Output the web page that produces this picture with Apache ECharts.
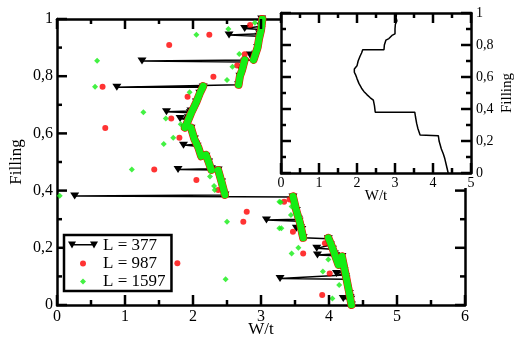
<!DOCTYPE html>
<html>
<head>
<meta charset="utf-8">
<script src="https://cdn.jsdelivr.net/npm/echarts@6/dist/echarts.min.js"></script>
<style>
html, body { margin: 0; padding: 0; background: #fff; }
#chart { width: 516px; height: 338px; }
</style>
</head>
<body>
<div id="chart"></div>
<script>
// L = 377 : curve with the gap spikes, [W/t, filling]
const l377 = [
    [3.01, 1.0], [3.0, 0.975], [2.76, 0.967], [3.0, 0.963], [2.98, 0.948], [2.53, 0.944], [2.97, 0.94],
    [2.95, 0.90], [2.92, 0.877], [2.84, 0.874], [2.90, 0.87], [2.89, 0.857], [1.25, 0.853], [2.76, 0.85],
    [2.72, 0.82], [2.69, 0.80], [2.67, 0.77], [0.88, 0.761], [2.15, 0.762], [2.10, 0.74], [2.05, 0.71],
    [1.97, 0.678], [1.61, 0.676], [1.96, 0.672], [1.93, 0.655], [1.81, 0.652], [1.92, 0.648], [1.88, 0.62],
    [1.97, 0.618], [2.02, 0.58], [2.04, 0.562], [1.86, 0.559], [2.06, 0.555], [2.12, 0.52], [2.19, 0.52],
    [2.23, 0.5], [2.27, 0.476], [1.78, 0.474], [2.37, 0.472], [2.42, 0.43], [2.47, 0.385], [0.26, 0.381],
    [3.47, 0.378], [3.52, 0.33], [3.55, 0.30], [3.08, 0.297], [3.56, 0.293], [3.58, 0.27], [3.52, 0.268],
    [3.60, 0.264], [3.62, 0.235], [3.99, 0.232], [4.02, 0.21], [3.82, 0.198], [4.05, 0.195], [4.08, 0.178],
    [3.83, 0.175], [4.10, 0.172], [4.14, 0.14], [4.19, 0.17], [4.22, 0.12], [4.11, 0.11], [4.23, 0.105],
    [4.24, 0.10], [3.28, 0.093], [4.25, 0.09], [4.30, 0.04], [4.31, 0.026], [4.21, 0.023], [4.32, 0.02],
    [4.33, 0.0]
];

// dense parts of L = 987 / L = 1597 (they sit on the curve)
const curveSegments = [
    [[3.02, 1.0], [3.0, 0.96], [2.97, 0.93], [2.95, 0.90], [2.89, 0.857]],
    [[2.76, 0.857], [2.72, 0.82], [2.69, 0.80], [2.67, 0.77]],
    [[2.15, 0.765], [2.10, 0.74], [2.05, 0.71], [1.97, 0.67], [1.91, 0.635], [1.88, 0.62]],
    [[1.97, 0.62], [2.02, 0.58], [2.08, 0.55], [2.12, 0.52]],
    [[2.19, 0.525], [2.23, 0.5], [2.27, 0.472]],
    [[2.37, 0.472], [2.42, 0.43], [2.47, 0.385]],
    [[3.47, 0.38], [3.52, 0.33], [3.57, 0.29], [3.62, 0.235]],
    [[3.99, 0.235], [4.05, 0.2], [4.14, 0.14]],
    [[4.19, 0.17], [4.25, 0.1], [4.30, 0.04], [4.33, 0.0]]
];

// scattered points off the curve
const l987Points = [
    [2.24, 0.945], [1.65, 0.909], [2.84, 0.979], [2.76, 0.877], [2.65, 0.837], [2.30, 0.798],
    [0.67, 0.763], [1.92, 0.728], [1.68, 0.652], [0.71, 0.619], [1.80, 0.585], [1.43, 0.474],
    [2.05, 0.437], [2.37, 0.402], [2.79, 0.326], [2.74, 0.291], [1.77, 0.146], [3.42, 0.369],
    [3.34, 0.361], [3.47, 0.256], [3.62, 0.18], [4.01, 0.11], [3.90, 0.035], [3.94, 0.216]
];
const l1597Points = [
    [2.05, 0.945], [2.52, 0.965], [2.91, 0.987], [0.59, 0.854], [2.68, 0.878], [2.58, 0.833],
    [0.56, 0.763], [2.50, 0.787], [1.95, 0.744], [1.27, 0.674], [1.60, 0.652], [1.82, 0.632],
    [1.71, 0.585], [1.57, 0.563], [1.10, 0.474], [2.25, 0.449], [2.31, 0.416], [2.32, 0.402],
    [0.04, 0.382], [2.50, 0.291], [2.48, 0.09], [3.27, 0.361], [3.27, 0.268], [3.29, 0.359],
    [3.44, 0.315], [3.30, 0.268], [3.45, 0.344], [3.55, 0.2], [3.45, 0.18], [3.99, 0.159],
    [3.91, 0.117], [4.15, 0.07], [4.05, 0.023]
];

// inset curve
const insetCurve = [
    [3.04, 1.0], [3.03, 0.97], [3.05, 0.95], [3.01, 0.93], [3.0, 0.90], [3.0, 0.87], [2.92, 0.86],
    [2.84, 0.84], [2.76, 0.83], [2.74, 0.82], [2.72, 0.80], [2.71, 0.77], [2.15, 0.77], [2.12, 0.75],
    [2.08, 0.73], [2.03, 0.70], [2.0, 0.67], [1.93, 0.65], [1.93, 0.63], [1.97, 0.61], [2.0, 0.59],
    [2.05, 0.56], [2.12, 0.53], [2.18, 0.51], [2.26, 0.49], [2.35, 0.47], [2.43, 0.455], [2.46, 0.42],
    [2.48, 0.38], [3.52, 0.38], [3.54, 0.35], [3.57, 0.31], [3.60, 0.28], [3.66, 0.237], [4.14, 0.233],
    [4.16, 0.20], [4.19, 0.19], [4.22, 0.15], [4.27, 0.12], [4.31, 0.09], [4.35, 0.05], [4.40, 0.0]
];

// tick positions
const mainXTicks = [0, 1, 2, 3, 4, 5, 6];
const mainXMinor = [0.5, 1.5, 2.5, 3.5, 4.5, 5.5];
const insetXTicks = [0, 1, 2, 3, 4, 5];
const insetXMinor = [0.5, 1.5, 2.5, 3.5, 4.5];
const yTicks = [0, 0.2, 0.4, 0.6, 0.8, 1];
const yMinor = [0.1, 0.3, 0.5, 0.7, 0.9];

const serif = 'Liberation Serif';
const green = '#14ee14';
const red = '#ff0000';

// legend icons, drawn in a 30x8 box
const legendItems = [
    { name: 'L = 377', icon: 'path://M0,0 L8,0 L4,7 Z M22,0 L30,0 L26,7 Z M4,2.5 L26,2.5 L26,4 L4,4 Z M0,8 L0.01,8 L0,7.99 Z' },
    { name: 'L = 987', icon: 'path://M0,0 L0.01,0 L0,0.01 Z M30,8 L29.99,8 L30,7.99 Z M12,4 A3,3 0 1,1 18,4 A3,3 0 1,1 12,4 Z' },
    { name: 'L = 1597', icon: 'path://M0,0 L0.01,0 L0,0.01 Z M30,8 L29.99,8 L30,7.99 Z M15,1 L18,4 L15,7 L12,4 Z' }
];

function commaLabel(v) {
    return String(v).replace('.', ',');
}

function axis(extra) {
    const base = {
        type: 'value',
        axisLine: { show: true, onZero: false, lineStyle: { color: '#000', width: 2.5 } },
        axisTick: { show: false },
        splitLine: { show: false },
        axisLabel: { show: false, color: '#000', fontFamily: serif, fontSize: 16 },
        nameMoveOverlap: false,
        nameTextStyle: { color: '#000', fontFamily: serif, fontSize: 17 }
    };
    return Object.assign(base, extra);
}

const chart = echarts.init(document.getElementById('chart'));

const bandSeries = [];
curveSegments.forEach(function (seg) {
    bandSeries.push({
        type: 'line', name: 'band987', data: seg, symbol: 'none', silent: true, z: 3,
        lineStyle: { color: red, width: 8, cap: 'round', join: 'round' }
    });
});
curveSegments.forEach(function (seg) {
    bandSeries.push({
        type: 'line', name: 'band1597', data: seg, symbol: 'none', silent: true, z: 4,
        lineStyle: { color: green, width: 7, cap: 'round', join: 'round' }
    });
});

const cover = {
    type: 'rect', z: 10, silent: true,
    shape: { x: 281, y: 0, width: 200, height: 188 },
    style: { fill: '#fff' }
};

chart.setOption({
    animation: false,
    textStyle: { fontFamily: serif },
    grid: [
        { left: 57, top: 19, width: 408, height: 286, outerBoundsMode: 'none', containLabel: false },
        { left: 281, top: 13, width: 190, height: 160, outerBoundsMode: 'none', containLabel: false }
    ],
    legend: {
        data: legendItems,
        orient: 'vertical',
        left: 64, top: 235,
        itemWidth: 30, itemHeight: 8, itemGap: 1,
        padding: [2, 6, 1, 4],
        borderColor: '#000', borderWidth: 2.5,
        backgroundColor: '#fff',
        textStyle: { fontFamily: serif, fontSize: 17, color: '#000', lineHeight: 15 },
        z: 30
    },
    graphic: [cover],
    xAxis: [
        axis({ gridIndex: 0, min: 0, max: 6, interval: 1, position: 'bottom',
            axisLabel: { show: true, color: '#000', fontFamily: serif, fontSize: 16, margin: 4 },
            name: 'W/t', nameLocation: 'middle', nameGap: 16 }),
        axis({ gridIndex: 0, min: 0, max: 6, interval: 1, position: 'top' }),
        axis({ gridIndex: 1, min: 0, max: 5, interval: 1, position: 'bottom', z: 20,
            axisLabel: { show: true, color: '#000', fontFamily: serif, fontSize: 14, margin: 3 },
            name: 'W/t', nameLocation: 'middle', nameGap: 16,
            nameTextStyle: { color: '#000', fontFamily: serif, fontSize: 15 } }),
        axis({ gridIndex: 1, min: 0, max: 5, interval: 1, position: 'top', z: 20 })
    ],
    yAxis: [
        axis({ gridIndex: 0, min: 0, max: 1, interval: 0.2, position: 'left',
            axisLabel: { show: true, color: '#000', fontFamily: serif, fontSize: 16, margin: 4, formatter: commaLabel },
            name: 'Filling', nameLocation: 'middle', nameGap: 32 }),
        axis({ gridIndex: 0, min: 0, max: 1, interval: 0.2, position: 'right' }),
        axis({ gridIndex: 1, min: 0, max: 1, interval: 0.2, position: 'right', z: 20,
            axisLabel: { show: true, color: '#000', fontFamily: serif, fontSize: 14, margin: 5, formatter: commaLabel },
            name: 'Filling', nameLocation: 'middle', nameGap: 29, nameRotate: 90,
            nameTextStyle: { color: '#000', fontFamily: serif, fontSize: 15 } }),
        axis({ gridIndex: 1, min: 0, max: 1, interval: 0.2, position: 'left', z: 20 })
    ],
    series: [
        {
            name: 'L = 377', type: 'line', xAxisIndex: 0, yAxisIndex: 0, data: l377, z: 2,
            symbol: 'triangle', symbolRotate: 180, symbolSize: [9, 7],
            itemStyle: { color: '#000' }, lineStyle: { color: '#000', width: 1.5 }
        }
    ].concat(bandSeries).concat([
        {
            name: 'L = 987', type: 'scatter', xAxisIndex: 0, yAxisIndex: 0, data: l987Points, z: 3,
            symbol: 'circle', symbolSize: 6, itemStyle: { color: red }
        },
        {
            name: 'L = 1597', type: 'scatter', xAxisIndex: 0, yAxisIndex: 0, data: l1597Points, z: 4,
            symbol: 'diamond', symbolSize: 6, itemStyle: { color: green }
        },
        {
            name: 'inset', type: 'line', xAxisIndex: 2, yAxisIndex: 2, data: insetCurve, z: 20,
            symbol: 'none', lineStyle: { color: '#000', width: 1.5 }
        }
    ])
});

// inward tick marks, placed through the axes' own scales
const tickEls = [];
function tickLine(p, dx, dy, z) {
    tickEls.push({
        type: 'polyline', silent: true, z: z,
        shape: { points: [[p[0], p[1]], [p[0] + dx, p[1] + dy]] },
        style: { stroke: '#000', lineWidth: 2.5, fill: null }
    });
}
function frameTicks(xi, yi, xMax, xMajor, xMinor, z) {
    const finder = { xAxisIndex: xi, yAxisIndex: yi };
    const px = function (pt) { return chart.convertToPixel(finder, pt); };
    [[xMajor, 10], [xMinor, 5]].forEach(function (t) {
        t[0].forEach(function (v) {
            tickLine(px([v, 0]), 0, -t[1], z);
            tickLine(px([v, 1]), 0, t[1], z);
        });
    });
    [[yTicks, 10], [yMinor, 5]].forEach(function (t) {
        t[0].forEach(function (v) {
            tickLine(px([0, v]), t[1], 0, z);
            tickLine(px([xMax, v]), -t[1], 0, z);
        });
    });
}
frameTicks(0, 0, 6, mainXTicks, mainXMinor, 5);
frameTicks(2, 2, 5, insetXTicks, insetXMinor, 25);
chart.setOption({ graphic: { elements: [cover].concat(tickEls) } });
</script>
</body>
</html>
